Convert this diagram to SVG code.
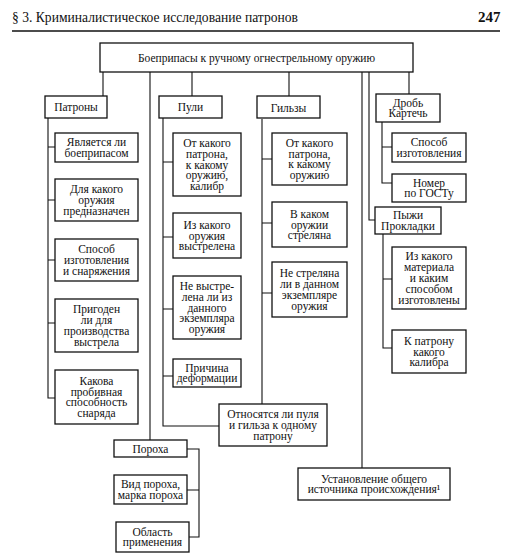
<svg xmlns="http://www.w3.org/2000/svg" width="515" height="560" viewBox="0 0 515 560">
<style>
.b{fill:#fff;stroke:#111;stroke-width:1.3}
.c{fill:none;stroke:#111;stroke-width:1.1}
text{font-family:"Liberation Serif","Times New Roman",serif;fill:#111;font-size:11.5px;text-anchor:middle}
.h{font-size:15px;text-anchor:start}
</style>
<rect width="515" height="560" fill="#fff"/>
<g id="header">
<text class="h" x="12" y="22" textLength="286" lengthAdjust="spacingAndGlyphs">§ 3. Криминалистическое исследование патронов</text>
<text class="h" x="478" y="22" font-weight="bold">247</text>
<line x1="12" y1="31" x2="500" y2="31" stroke="#111" stroke-width="1.6"/>
</g>
<g id="connectors">
<path class="c" d="M103 72V96M150 72V440M192 72V96M289 72V96M362 72V468M369 72V220H375M409 72V94"/>
<path class="c" d="M48 118V398H55M48 147H55M48 200H55M48 260H55M48 323H55"/>
<path class="c" d="M163 118V426H219M163 162H173M163 237H173M163 309H173M163 376H173"/>
<path class="c" d="M262 119V404M262 159H272M262 223H272M262 293H272"/>
<path class="c" d="M382 122V183H392M382 147H392"/>
<path class="c" d="M383 234V348H392M383 279H392"/>
<path class="c" d="M187 449H199V537H189M187 490H199"/>
</g>
<g id="root"><rect class="b" x="100" y="43" width="313" height="29"/><text x="256.5" y="61.5" font-size="11.6">Боеприпасы к ручному огнестрельному оружию</text></g>
<g id="patrony"><rect class="b" x="45" y="96" width="62" height="22"/><text x="76" y="111">Патроны</text></g>
<g id="puli"><rect class="b" x="159" y="96" width="63" height="22"/><text x="190.5" y="111">Пули</text></g>
<g id="gilzy"><rect class="b" x="257" y="96" width="63" height="22"/><text x="288.5" y="111.5">Гильзы</text></g>
<g id="drob"><rect class="b" x="376" y="94" width="64" height="28"/><text x="408" y="106.6">Дробь</text><text x="408" y="117.4">Картечь</text></g>
<g id="p1"><rect class="b" x="55" y="133" width="83" height="29"/><text x="96.5" y="146.1">Является ли</text><text x="96.5" y="156.9">боеприпасом</text></g>
<g id="p2"><rect class="b" x="55" y="179" width="83" height="42"/><text x="96.5" y="193.2">Для какого</text><text x="96.5" y="204">оружия</text><text x="96.5" y="214.8">предназначен</text></g>
<g id="p3"><rect class="b" x="55" y="239" width="83" height="42"/><text x="96.5" y="253.2">Способ</text><text x="96.5" y="264">изготовления</text><text x="96.5" y="274.8">и снаряжения</text></g>
<g id="p4"><rect class="b" x="55" y="299" width="83" height="53"/><text x="96.5" y="313.3">Пригоден</text><text x="96.5" y="324.1">ли для</text><text x="96.5" y="334.9">производства</text><text x="96.5" y="345.7">выстрела</text></g>
<g id="p5"><rect class="b" x="55" y="370" width="83" height="54"/><text x="96.5" y="384.8">Какова</text><text x="96.5" y="395.6">пробивная</text><text x="96.5" y="406.4">способность</text><text x="96.5" y="417.2">снаряда</text></g>
<g id="pu1"><rect class="b" x="173" y="133" width="68" height="63"/><text x="207" y="146.9">От какого</text><text x="207" y="157.7">патрона,</text><text x="207" y="168.5">к какому</text><text x="207" y="179.3">оружию,</text><text x="207" y="190.1">калибр</text></g>
<g id="pu2"><rect class="b" x="173" y="213" width="68" height="45"/><text x="207" y="228.7">Из какого</text><text x="207" y="239.5">оружия</text><text x="207" y="250.3">выстрелена</text></g>
<g id="pu3"><rect class="b" x="173" y="276" width="68" height="63"/><text x="207" y="289.9">Не выстре-</text><text x="207" y="300.7">лена ли из</text><text x="207" y="311.5">данного</text><text x="207" y="322.3">экземпляра</text><text x="207" y="333.1">оружия</text></g>
<g id="pu4"><rect class="b" x="173" y="359" width="68" height="28"/><text x="207" y="371.6">Причина</text><text x="207" y="382.4">деформации</text></g>
<g id="g1"><rect class="b" x="272" y="133" width="75" height="52"/><text x="309.5" y="146.8">От какого</text><text x="309.5" y="157.6">патрона,</text><text x="309.5" y="168.4">к какому</text><text x="309.5" y="179.2">оружию</text></g>
<g id="g2"><rect class="b" x="272" y="202" width="75" height="45"/><text x="309.5" y="217.7">В каком</text><text x="309.5" y="228.5">оружии</text><text x="309.5" y="239.3">стреляна</text></g>
<g id="g3"><rect class="b" x="272" y="262" width="75" height="55"/><text x="309.5" y="277.3">Не стреляна</text><text x="309.5" y="288.1">ли в данном</text><text x="309.5" y="298.9">экземпляре</text><text x="309.5" y="309.7">оружия</text></g>
<g id="d1"><rect class="b" x="392" y="133" width="74" height="29"/><text x="429" y="146.1">Способ</text><text x="429" y="156.9">изготовления</text></g>
<g id="d2"><rect class="b" x="392" y="174" width="74" height="28"/><text x="429" y="186.6">Номер</text><text x="429" y="197.4">по ГОСТу</text></g>
<g id="pyzhi"><rect class="b" x="375" y="207" width="66" height="27"/><text x="408" y="219.1">Пыжи</text><text x="408" y="229.9">Прокладки</text></g>
<g id="py1"><rect class="b" x="392" y="247" width="74" height="62"/><text x="429" y="260.4">Из какого</text><text x="429" y="271.2">материала</text><text x="429" y="282">и каким</text><text x="429" y="292.8">способом</text><text x="429" y="303.6">изготовлены</text></g>
<g id="py2"><rect class="b" x="392" y="330" width="74" height="43"/><text x="429" y="344.7">К патрону</text><text x="429" y="355.5">какого</text><text x="429" y="366.3">калибра</text></g>
<g id="otnos"><rect class="b" x="219" y="404" width="108" height="42"/><text x="273" y="418.2">Относятся ли пуля</text><text x="273" y="429">и гильза к одному</text><text x="273" y="439.8">патрону</text></g>
<g id="porokha"><rect class="b" x="114" y="440" width="73" height="17"/><text x="150.5" y="452.5">Пороха</text></g>
<g id="vid"><rect class="b" x="114" y="475" width="73" height="29"/><text x="150.5" y="488.1">Вид пороха,</text><text x="150.5" y="498.9">марка пороха</text></g>
<g id="oblast"><rect class="b" x="116" y="522" width="73" height="30"/><text x="152.5" y="535.6">Область</text><text x="152.5" y="546.4">применения</text></g>
<g id="ustan"><rect class="b" x="298" y="468" width="152" height="32"/><text x="374" y="482.6">Установление общего</text><text x="374" y="493.4">источника происхождения¹</text></g>
</svg>
